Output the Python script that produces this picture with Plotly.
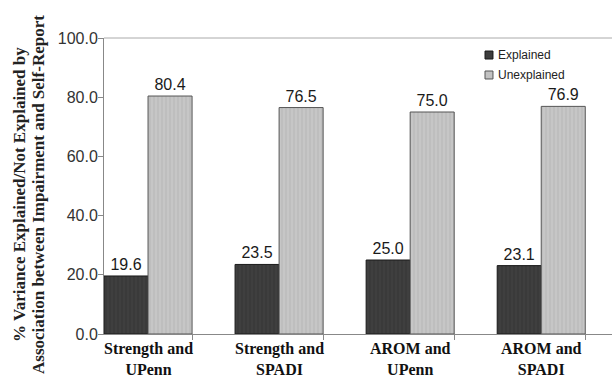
import plotly.graph_objects as go

categories = ["Strength and<br>UPenn", "Strength and<br>SPADI", "AROM and<br>UPenn", "AROM and<br>SPADI"]
explained = [19.6, 23.5, 25.0, 23.1]
unexplained = [80.4, 76.5, 75.0, 76.9]
y_ticks = [0, 20, 40, 60, 80, 100]
series_names = ["Explained", "Unexplained"]
y_title_lines = ["% Variance Explained/Not Explained by",
                 "Association between Impairment and Self-Report"]

xpos = list(range(len(categories)))
DARK = "#3d3d3d"
LIGHT = "#c2c2c2"

fig = go.Figure()
fig.add_trace(go.Bar(
    x=xpos, y=explained, name=series_names[0], showlegend=False,
    marker=dict(color=DARK, line=dict(color="#1a1a1a", width=1),
                pattern=dict(shape="|", fgcolor="#2c2c2c", bgcolor="#3f3f3f", size=4, solidity=0.3)),
    texttemplate="%{y:.1f}", textposition="outside",
    textfont=dict(family="Liberation Sans, Arial", size=16, color="#1a1a1a"),
    cliponaxis=False,
))
fig.add_trace(go.Bar(
    x=xpos, y=unexplained, name=series_names[1], showlegend=False,
    marker=dict(color=LIGHT, line=dict(color="#555555", width=1),
                pattern=dict(shape="|", fgcolor="#ababab", bgcolor="#c6c6c6", size=4, solidity=0.3)),
    texttemplate="%{y:.1f}", textposition="outside",
    textfont=dict(family="Liberation Sans, Arial", size=16, color="#1a1a1a"),
    cliponaxis=False,
))
# invisible trace for tick-mark axis
fig.add_trace(go.Scatter(x=[0], y=[0], xaxis="x2", mode="markers",
                         marker=dict(opacity=0), showlegend=False, hoverinfo="skip"))

annotations = []
for xx, line in zip([-0.1654, -0.128], y_title_lines):
    annotations.append(dict(
        text="<b>%s</b>" % line,
        xref="paper", yref="paper", x=xx, y=0.473, xanchor="center", yanchor="middle",
        textangle=-90, showarrow=False,
        font=dict(family="Liberation Serif, Times New Roman", size=17, color="#222"),
    ))
for xp, c in zip(xpos, categories):
    annotations.append(dict(text="<b>%s</b>" % c, x=xp, y=0, xref="x", yref="paper",
                            xanchor="center", yanchor="top", yshift=-4, showarrow=False,
                            font=dict(family="Liberation Serif, Times New Roman", size=16, color="#111")))

shapes = [dict(type="line", xref="paper", yref="paper", x0=0, x1=1, y0=1, y1=1,
               line=dict(color="#aaa", width=1))]
# manual legend
leg = [(series_names[0], DARK, "#1a1a1a", 0.956, 0.929, 0.9426),
       (series_names[1], LIGHT, "#555", 0.8885, 0.8615, 0.875)]
for nm, col, lc, y0, y1, yt in leg:
    shapes.append(dict(type="rect", xref="paper", yref="paper", x0=0.75, x1=0.7657, y0=y1, y1=y0,
                       fillcolor=col, line=dict(color=lc, width=1)))
    annotations.append(dict(text=nm, xref="paper", yref="paper", x=0.7717, y=yt,
                            xanchor="left", yanchor="middle", showarrow=False,
                            font=dict(family="Liberation Sans, Arial", size=12, color="#222")))

fig.update_layout(
    width=612, height=377,
    margin=dict(l=104, r=0, t=38, b=43),
    paper_bgcolor="white", plot_bgcolor="white",
    barmode="group", bargap=0.328, bargroupgap=0,
    showlegend=False,
    xaxis=dict(
        tickmode="array", tickvals=xpos, showticklabels=False,
        range=[-0.336, 3.54], showline=True, linecolor="#888", linewidth=1,
        ticks="", showgrid=False, zeroline=False,
    ),
    xaxis2=dict(
        overlaying="x", side="bottom", range=[-0.336, 3.54],
        tickmode="array", tickvals=[x + 0.336 for x in xpos],
        ticks="outside", ticklen=5, tickcolor="#888", showticklabels=False,
        showgrid=False, zeroline=False, showline=False,
    ),
    yaxis=dict(
        range=[0, 100], tickvals=y_ticks, tickformat=".1f",
        ticks="outside", ticklen=5, tickcolor="#888", ticklabelstandoff=-3,
        showline=True, linecolor="#888", linewidth=1, showgrid=False, zeroline=False,
        tickfont=dict(family="Liberation Sans, Arial", size=16, color="#333"),
    ),
    shapes=shapes,
    annotations=annotations,
)

fig.write_html("out.html", config={"displayModeBar": False},
               post_script="document.body.style.margin='0';document.body.style.overflow='hidden';")
